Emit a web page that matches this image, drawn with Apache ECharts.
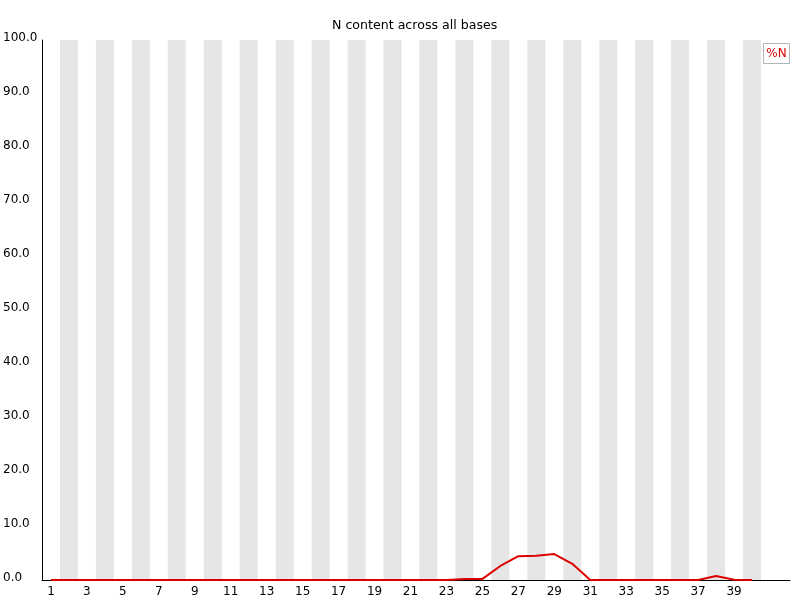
<!DOCTYPE html>
<html>
<head>
<meta charset="utf-8">
<script src="https://cdn.jsdelivr.net/npm/echarts@6/dist/echarts.min.js"></script>
<style>html,body{margin:0;padding:0;background:#fff;}#chart{width:800px;height:600px;}</style>
</head>
<body>
<div id="chart"></div>
<script>
const positions = [1,2,3,4,5,6,7,8,9,10,11,12,13,14,15,16,17,18,19,20,21,22,23,24,25,26,27,28,29,30,31,32,33,34,35,36,37,38,39,40];
const nPercent = [0,0,0,0,0,0,0,0,0,0,0,0,0,0,0,0,0,0,0,0,0,0,0,0.2,0.2,2.6,4.4,4.5,4.8,3.0,0,0,0,0,0,0,0,0.75,0.05,0];
const xTickLabels = [1,3,5,7,9,11,13,15,17,19,21,23,25,27,29,31,33,35,37,39];
const stripePositions = [2,4,6,8,10,12,14,16,18,20,22,24,26,28,30,32,34,36,38,40];
const seriesName = '%N';
const titleText = 'N content across all bases';

const chart = echarts.init(document.getElementById('chart'), null, {renderer: 'canvas'});
const font = 'DejaVu Sans';
chart.setOption({
  animation: false,
  backgroundColor: '#ffffff',
  textStyle: {fontFamily: font},
  title: {
    text: titleText,
    left: 332, top: 19, padding: 0,
    textStyle: {fontFamily: font, fontSize: 12.6, fontWeight: 'normal', color: '#000'}
  },
  grid: {left: 41, right: 10, top: 40, bottom: 20, containLabel: false},
  xAxis: {
    type: 'value', min: 0.5, max: 0.5 + 749 / 18,
    splitLine: {show: false},
    axisLine: {show: true, onZero: false, lineStyle: {color: '#000', width: 1}},
    axisTick: {show: false},
    axisLabel: {customValues: xTickLabels, margin: 6, color: '#000', fontFamily: font, fontSize: 12,
      formatter: v => String(v)}
  },
  yAxis: {
    type: 'value', min: 0, max: 100, interval: 10,
    splitLine: {show: false},
    axisLine: {show: true, lineStyle: {color: '#000', width: 1}},
    axisTick: {show: false},
    axisLabel: {margin: 39, align: 'left', verticalAlign: 'bottom', lineHeight: 5, color: '#000', fontFamily: font, fontSize: 12,
      formatter: v => v.toFixed(1)}
  },
  graphic: [{
    type: 'group', right: 10, top: 43, z: 100,
    children: [
      {type: 'rect', shape: {x: 0, y: 0, width: 26, height: 20}, style: {fill: '#fff', stroke: '#b4b4b4', lineWidth: 1}},
      {type: 'text', x: 13, y: 10, style: {text: seriesName, fill: 'rgb(220,0,0)', font: '12px "DejaVu Sans"', align: 'center', verticalAlign: 'middle'}}
    ]
  }],
  series: [
    {
      type: 'bar', silent: true, barWidth: 18, z: 1,
      itemStyle: {color: '#e6e6e6'},
      data: stripePositions.map(p => [p, 100])
    },
    {
      name: seriesName, type: 'line', z: 5, symbol: 'none', smooth: false,
      lineStyle: {color: 'rgb(220,0,0)', width: 2},
      data: positions.map((p, i) => [p, nPercent[i]])
    }
  ]
});
</script>
</body>
</html>
